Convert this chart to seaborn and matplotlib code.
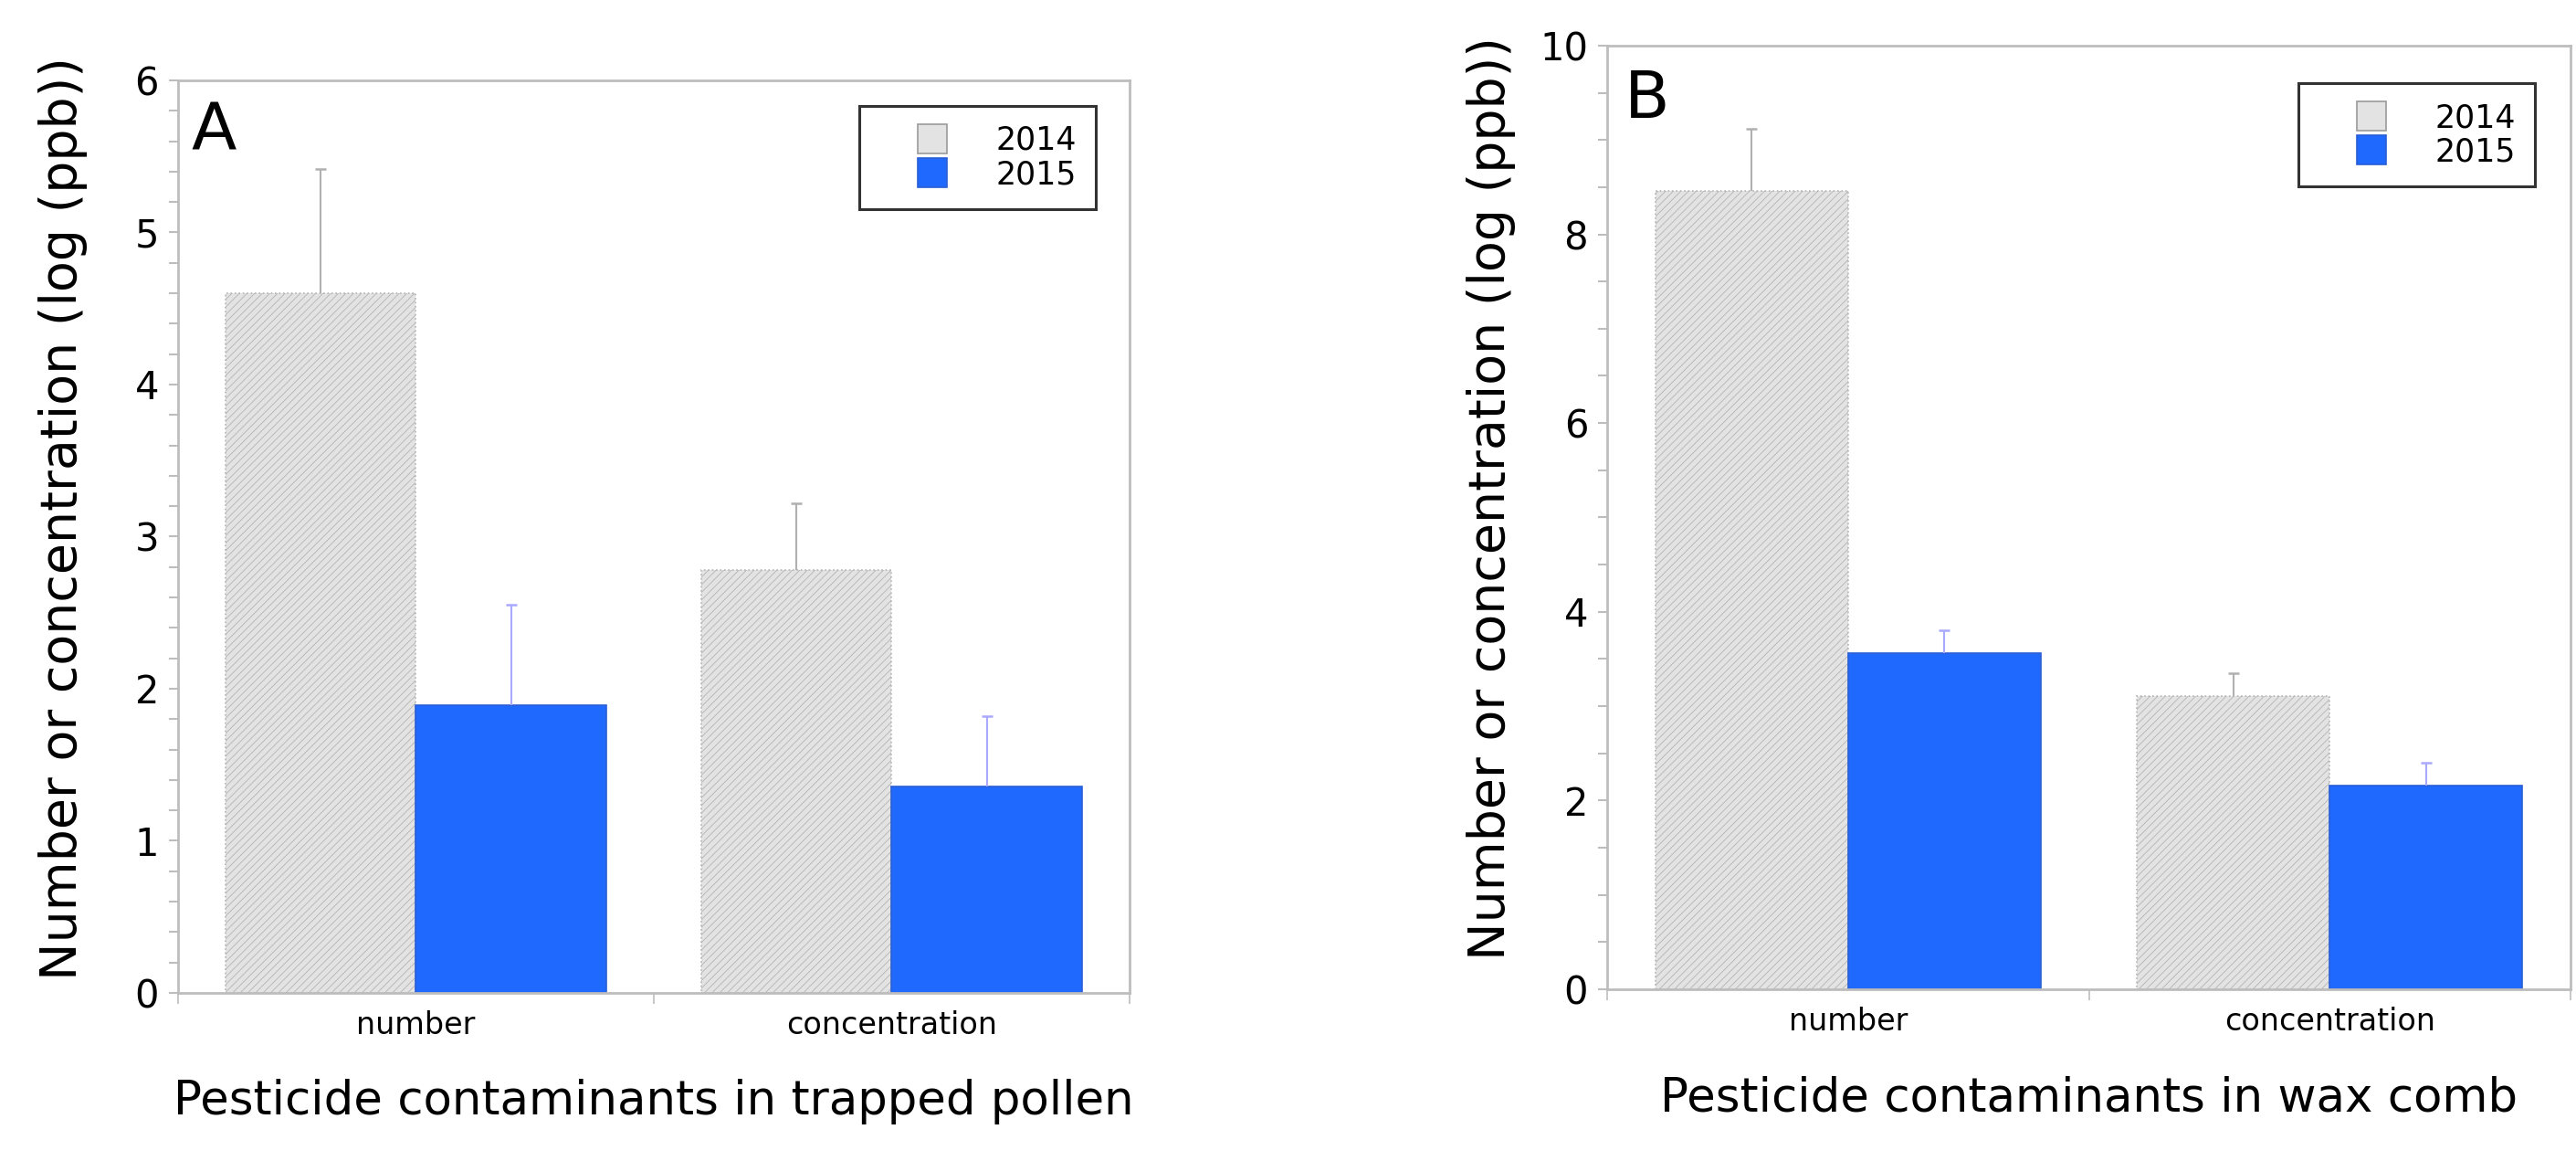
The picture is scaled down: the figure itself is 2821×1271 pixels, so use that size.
import numpy as np
import pandas as pd
import matplotlib
matplotlib.use("Agg")
import matplotlib.pyplot as plt
from matplotlib.lines import Line2D
import seaborn as sns

# values (log ppb / number), upper error = SE
categories = ['number', 'concentration']
years = ['2014', '2015']

pollen_2014 = [4.60, 2.78]
pollen_2015 = [1.89, 1.36]
pollen_se_2014 = [0.82, 0.44]
pollen_se_2015 = [0.66, 0.46]

wax_2014 = [8.46, 3.11]
wax_2015 = [3.56, 2.16]
wax_se_2014 = [0.66, 0.24]
wax_se_2015 = [0.24, 0.24]

sns.set_style('ticks')
plt.rcParams['font.family'] = ['DejaVu Sans']
plt.rcParams['hatch.linewidth'] = 0.6
plt.rcParams['text.color'] = 'black'
plt.rcParams['axes.labelcolor'] = 'black'
plt.rcParams['xtick.labelcolor'] = 'black'
plt.rcParams['ytick.labelcolor'] = 'black'

bar_colors = {'2014': '#e3e3e3', '2015': '#1f69ff'}
edge_colors = {'2014': '#b4b4b4', '2015': '#2a5fd6'}
err_colors = {'2014': '#b0b0b0', '2015': '#a9a9ff'}
spine_color = '#bdbdbd'


def make_df(v14, v15, se14, se15):
    return pd.DataFrame({
        'category': categories * 2,
        'year': [years[0]] * 2 + [years[1]] * 2,
        'value': v14 + v15,
        'se': se14 + se15,
    })


def draw_panel(ax, df, letter, ymax, major, minor, xlabel, leg_anchor, letter_pos):
    sns.barplot(data=df, x='category', y='value', hue='year', order=categories,
                hue_order=years, palette=bar_colors, errorbar=None, saturation=1,
                width=0.8, legend=False, ax=ax)

    # style bars + upper-only error bars
    for year, cont in zip(years, ax.containers):
        se_vals = df.loc[df['year'] == year, 'se'].tolist()
        for bar, se in zip(cont, se_vals):
            bar.set_edgecolor(edge_colors[year])
            bar.set_linewidth(1.2)
            if year == '2014':
                bar.set_hatch('////')
                bar.set_linestyle(':')
            x = bar.get_x() + bar.get_width() / 2
            top = bar.get_height()
            ax.vlines(x, top, top + se, color=err_colors[year], lw=1.5, zorder=3)
            ax.plot([x], [top + se], marker='_', ms=8.5, mew=1.8,
                    color=err_colors[year], zorder=3)

    ax.set_ylim(0, ymax)
    ax.set_xlim(-0.5, 1.5)
    ax.set_yticks(np.arange(0, ymax + 0.01, major))
    ax.set_yticks(np.arange(0, ymax + 0.01, minor), minor=True)
    ax.set_xticks([-0.5, 0.5, 1.5], minor=True)

    ax.tick_params(axis='y', which='both', direction='out', length=7, width=1.5,
                   color=spine_color, labelsize=30, pad=8, right=False)
    ax.tick_params(axis='x', which='major', length=0, labelsize=24, pad=14)
    ax.tick_params(axis='x', which='minor', direction='out', length=8.5, width=1.2,
                   color=spine_color)

    for sp in ax.spines.values():
        sp.set_visible(True)
        sp.set_color(spine_color)
        sp.set_linewidth(2)

    ax.set_xlabel(xlabel, fontsize=37, labelpad=30)
    ax.set_ylabel('Number or concentration (log (ppb))', fontsize=40)
    ax.yaxis.set_label_coords(-0.095, 0.52)

    ax.text(letter_pos[0], letter_pos[1], letter, transform=ax.transAxes,
            fontsize=52, ha='left', va='baseline')

    handles = [
        Line2D([], [], ls='none', marker='s', ms=23, mfc=bar_colors['2014'],
               mec='#9a9a9a', mew=1.2, label='2014'),
        Line2D([], [], ls='none', marker='s', ms=23, mfc=bar_colors['2015'],
               mec=edge_colors['2015'], mew=1.2, label='2015'),
    ]
    leg = ax.legend(handles=handles, loc='upper right', bbox_to_anchor=leg_anchor,
                    borderaxespad=0, fontsize=25, frameon=True, fancybox=False,
                    borderpad=0.6, labelspacing=0.1, handlelength=3.4,
                    handletextpad=0.3, edgecolor='#333333', framealpha=1)
    leg.get_frame().set_linewidth(2.2)


fig = plt.figure(figsize=(28.21, 12.71), dpi=100)
ax_a = fig.add_axes([0.0691, 0.1448, 0.3694, 0.7860])
ax_b = fig.add_axes([0.6239, 0.1480, 0.3740, 0.8127])

draw_panel(ax_a, make_df(pollen_2014, pollen_2015, pollen_se_2014, pollen_se_2015),
           'A', 6, 1, 0.2, 'Pesticide contaminants in trapped pollen',
           (0.9645, 0.972), (0.014, 0.924))
draw_panel(ax_b, make_df(wax_2014, wax_2015, wax_se_2014, wax_se_2015),
           'B', 10, 2, 0.5, 'Pesticide contaminants in wax comb',
           (0.963, 0.960), (0.018, 0.923))

fig.savefig('out.png', dpi=100, facecolor='white')
